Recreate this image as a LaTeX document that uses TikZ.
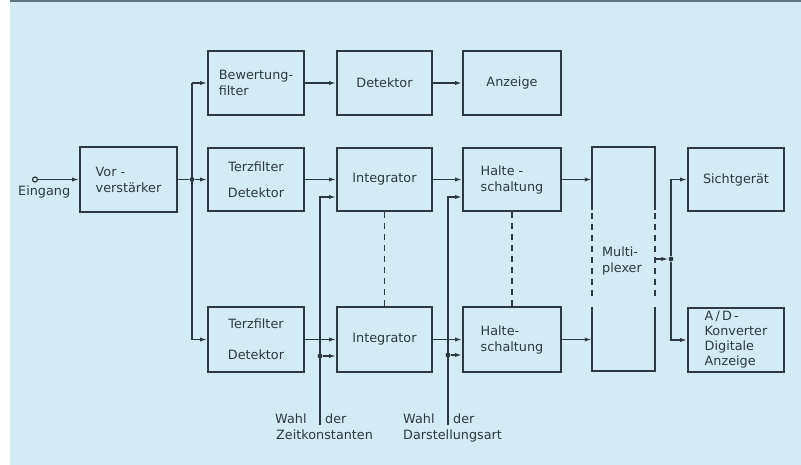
\documentclass[tikz,border=0pt]{standalone}
\usepackage{fontspec}
\setmainfont{DejaVu Sans}
\usetikzlibrary{arrows.meta}
\definecolor{bg}{HTML}{D3EBF4}
\definecolor{ink}{HTML}{2C3941}
\definecolor{topline}{HTML}{5E7584}
\begin{document}
\begin{tikzpicture}[x=1pt,y=-1pt,
  box/.style={draw=ink, line width=1.8pt, inner sep=0pt, minimum width=96pt, minimum height=63pt,
    text=ink, font=\fontsize{12.8}{16}\selectfont},
  lbl/.style={text=ink, inner sep=0pt, font=\fontsize{12.8}{16}\selectfont},
  conn/.style={draw=ink, line width=1.5pt},
  arr/.style={conn, -{Latex[length=7pt,width=4.2pt]}},
  dsh/.style={draw=ink, line width=1.5pt, dash pattern=on 6pt off 5pt},
  dotc/.style={fill=ink, circle, inner sep=0pt, minimum size=4.8pt}]
% background
\fill[white] (0,0) rectangle (801,465);
\fill[bg] (10,0) rectangle (801,465);
\fill[topline] (10,0) rectangle (801,2.5);
\useasboundingbox (0,0) rectangle (801,465);

% boxes
\node[box, minimum width=97pt, minimum height=65pt, align=left] (vor) at (128.5,179.5) {Vor -\\verstärker};
\node[box, minimum height=64pt, align=left] (bew) at (256,83) {Bewertung-\\filter};
\node[box, minimum width=95pt, minimum height=64pt] (det) at (384.5,83) {Detektor};
\node[box, minimum width=98pt, minimum height=64pt] (anz) at (512,83) {Anzeige};

\node[box, align=center] (terz1) at (256,179.5) {Terzfilter\\[10pt]Detektor};
\node[box, minimum width=95pt] (int1) at (384.5,179.5) {Integrator};
\node[box, minimum width=98pt, align=left] (hal1) at (512,179.5) {Halte -\\schaltung};
\node[box] (sicht) at (736,179.5) {Sichtgerät};

\node[box, minimum height=65pt, align=center] (terz2) at (256,339.5) {Terzfilter\\[15pt]Detektor};
\node[box, minimum width=95pt, minimum height=65pt] (int2) at (384.5,339.5) {Integrator};
\node[box, minimum width=98pt, minimum height=65pt, align=left] (hal2) at (512,339.5) {Halte-\\schaltung};
\node[box, minimum height=64pt, align=left, font=\fontsize{12.8}{15}\selectfont] (ad) at (736,340) {A\,/\,D\,-\\Konverter\\Digitale\\Anzeige};

% multiplexer
\node[inner sep=0pt, minimum width=63pt, minimum height=224pt] (mux) at (623.5,259) {};
\node[lbl, align=left] (muxl) at (622,261) {Multi-\\plexer};
\draw[conn, line width=1.8pt] (mux.north west |- 0,210) -- (mux.north west) -- (mux.north east) -- (mux.north east |- 0,210);
\draw[conn, line width=1.8pt] (mux.south west |- 0,307) -- (mux.south west) -- (mux.south east) -- (mux.south east |- 0,307);
\draw[dsh, line width=1.8pt] (mux.west |- 0,213) -- (mux.west |- 0,296);
\draw[dsh, line width=1.8pt] (mux.east |- 0,213) -- (mux.east |- 0,296);

% input
\node[draw=ink, circle, line width=1.2pt, inner sep=0pt, minimum size=5pt, fill=bg] (in) at (35,179.5) {};
\node[lbl, anchor=base west] (eing) at (18,196) {Eingang};
\draw[arr] (in) -- (vor.west);

% distribution
\coordinate (jt) at (192,83);
\coordinate (jb) at (192,339.5);
\node[dotc] (j) at (192,179.5) {};
\draw[conn] (vor.east) -- (j);
\draw[conn] (jt) -- (jb);
\draw[arr] (jt) -- (bew.west);
\draw[arr] (j) -- (terz1.west);
\draw[arr] (jb) -- (terz2.west);

% chains
\draw[arr] (bew) -- (det);
\draw[arr] (det) -- (anz);
\draw[arr] (terz1) -- (int1);
\draw[arr] (int1) -- (hal1);
\draw[arr] (hal1.east) -- (mux.west |- hal1.east);
\draw[arr] (terz2) -- (int2);
\draw[arr] (int2) -- (hal2);
\draw[arr] (hal2.east) -- (mux.west |- hal2.east);

% dashed links
\draw[dsh] (int1.south) -- (int2.north);
\draw[dsh] (hal1.south) -- (hal2.north);

% selection lines
\coordinate (z0) at (320,425);
\coordinate (z1) at (320,197);
\node[dotc] (zd) at (320,356) {};
\draw[arr] (z0) -- (z1) -- (int1.west |- z1);
\draw[arr] (zd) -- (int2.west |- zd);
\node[lbl, anchor=base west] (wz1) at (275,423) {Wahl};
\node[lbl, anchor=base west] (wz2) at (325,423) {der};
\node[lbl, anchor=base west] (wz3) at (276,439) {Zeitkonstanten};

\coordinate (d0) at (448,425);
\coordinate (d1) at (448,197);
\node[dotc] (dd) at (448,355) {};
\draw[arr] (d0) -- (d1) -- (hal1.west |- d1);
\draw[arr] (dd) -- (hal2.west |- dd);
\node[lbl, anchor=base west] (wd1) at (403,423) {Wahl};
\node[lbl, anchor=base west] (wd2) at (453,423) {der};
\node[lbl, anchor=base west] (wd3) at (403,439) {Darstellungsart};

% multiplexer output
\node[dotc] (mo) at (671,259) {};
\draw[arr] (mux.east |- mo) -- (mo);
\draw[arr] (mo) |- (sicht.west);
\draw[arr] (mo) |- (ad.west);
\end{tikzpicture}
\end{document}
